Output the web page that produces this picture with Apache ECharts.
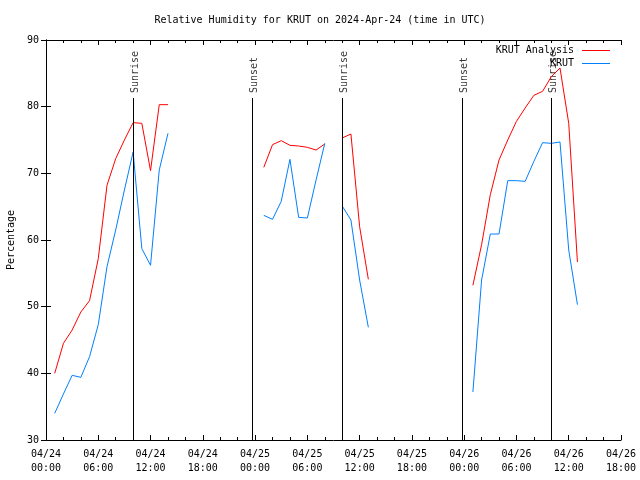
<!DOCTYPE html>
<html><head><meta charset="utf-8">
<script src="https://cdn.jsdelivr.net/npm/echarts@6/dist/echarts.min.js"></script>
<style>html,body{margin:0;padding:0;background:#fff}#c{width:640px;height:480px}</style>
</head><body><div id="c"></div>
<script>
// hours since 2024-04-24 00:00 UTC; null values mark gaps in the record
const hours = [1,2,3,4,5,6,7,8,9,10,11,12,13,14,15,
  25,26,27,28,29,30,31,32,33,
  34,35,36,37,38,
  49,50,51,52,53,54,55,56,57,58,59,60,61];
const analysis = [40,44.5,46.5,49.2,50.9,57.2,68.2,72.2,75,77.6,77.5,70.4,80.3,80.3,null,
  70.9,74.3,74.9,74.2,74.1,73.9,73.5,74.4,null,
  75.3,75.9,62,54.1,null,
  53.2,59.3,66.8,72,75,77.8,79.8,81.7,82.3,84.5,85.8,77.5,56.7];
const krut = [34,36.9,39.7,39.4,42.5,47.3,56,61.5,67.5,73.2,58.7,56.2,70.5,76,null,
  63.7,63.1,65.8,72.1,63.4,63.3,69,74.5,null,
  65.1,63,54,46.9,null,
  37.2,54,60.9,60.9,68.9,68.9,68.8,71.8,74.6,74.5,74.7,58.5,50.3];
const xTickLabels = ['04/24\n00:00','04/24\n06:00','04/24\n12:00','04/24\n18:00',
  '04/25\n00:00','04/25\n06:00','04/25\n12:00','04/25\n18:00',
  '04/26\n00:00','04/26\n06:00','04/26\n12:00','04/26\n18:00'];
const eventHours = [10, 23.68, 34, 47.78, 58];
const eventNames = ['Sunrise','Sunset','Sunrise','Sunset','Sunrise'];
const eventTop = 81.3;
const seriesNames = ['KRUT Analysis','KRUT'];
const seriesColors = ['#ff0000','#0080ff'];

const FONT = 'DejaVu Sans Mono';
const chart = echarts.init(document.getElementById('c'), null, {renderer:'canvas'});
const toPairs = vals => hours.map((h,i)=>[h, vals[i]]);
const xCommon = {type:'value', min:0, max:66, interval:6,
  axisLine:{show:true, lineStyle:{color:'#000', width:1}},
  axisTick:{show:true, inside:true, length:5, lineStyle:{color:'#000'}},
  minorTick:{show:true, splitNumber:3, length:3, lineStyle:{color:'#000'}},
  splitLine:{show:false}};
const yCommon = {type:'value', min:30, max:90, interval:10,
  axisLine:{show:true, lineStyle:{color:'#000', width:1}},
  axisTick:{show:true, inside:true, length:5, lineStyle:{color:'#000'}},
  splitLine:{show:false}};

chart.setOption({
  animation:false,
  backgroundColor:'#fff',
  textStyle:{fontFamily:FONT},
  title:{text:'Relative Humidity for KRUT on 2024-Apr-24 (time in UTC)', left:'center', top:15, padding:0,
    textStyle:{fontFamily:FONT, fontSize:10, fontWeight:'normal', color:'#000'}},
  legend:{data:seriesNames, orient:'vertical', right:30, top:44, padding:0, itemGap:0, align:'right',
    icon:'rect', itemWidth:28, itemHeight:1,
    textStyle:{fontFamily:FONT, fontSize:10, color:'#000', lineHeight:13, padding:[0,3,0,0]}},
  grid:{left:46, right:19, top:40, bottom:40, containLabel:false, outerBoundsMode:'none'},
  xAxis:[
    Object.assign({}, xCommon, {position:'bottom',
      axisLabel:{show:true, margin:7, fontFamily:FONT, fontSize:10, color:'#000', lineHeight:14,
        formatter:v => xTickLabels[Math.round(v/6)]}}),
    Object.assign({}, xCommon, {position:'top', axisLabel:{show:false}})
  ],
  yAxis:[
    Object.assign({}, yCommon, {position:'left', name:'Percentage', nameLocation:'middle', nameGap:30, nameRotate:90,
      nameTextStyle:{fontFamily:FONT, fontSize:10, color:'#000'},
      axisLabel:{show:true, margin:7, fontFamily:FONT, fontSize:10, color:'#000'}}),
    Object.assign({}, yCommon, {position:'right', axisLabel:{show:false}})
  ],
  series:[
    {name:seriesNames[0], type:'line', data:toPairs(analysis), showSymbol:false, connectNulls:false,
      color:seriesColors[0], lineStyle:{width:1, color:seriesColors[0]}, z:3},
    {name:seriesNames[1], type:'line', data:toPairs(krut), showSymbol:false, connectNulls:false,
      color:seriesColors[1], lineStyle:{width:1, color:seriesColors[1]}, z:3},
    {name:'events', type:'scatter', symbolSize:0, silent:true,
      data:eventHours.map((h,i)=>({value:[h, eventTop], name:eventNames[i]})),
      label:{show:true, position:'top', distance:5, rotate:90, align:'left', verticalAlign:'middle', offset:[0,2],
        formatter:p => p.name, fontFamily:FONT, fontSize:10, color:'#000'},
      markLine:{silent:true, symbol:'none', label:{show:false}, lineStyle:{color:'#000', width:1, type:'solid'},
        data:eventHours.map(h => [{coord:[h,30]},{coord:[h,eventTop]}])}
    }
  ]
});
</script></body></html>
